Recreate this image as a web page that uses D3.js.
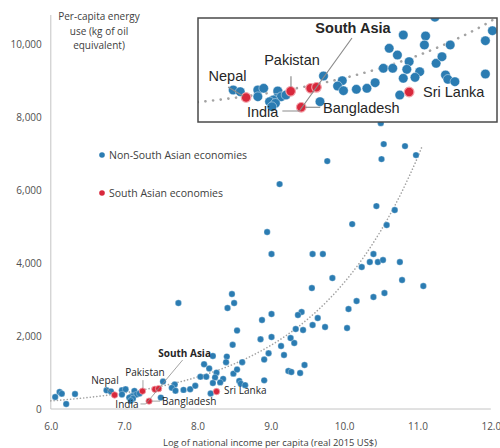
<!DOCTYPE html>
<html>
<head>
<meta charset="utf-8">
<script src="https://cdn.jsdelivr.net/npm/d3@7"></script>
<style>
  body { margin: 0; background: #fff; }
  svg { display: block; }
  text { font-family: "Open Sans", "Noto Sans", sans-serif; }
</style>
</head>
<body>
<svg id="chart" width="500" height="448"></svg>
<script>
// Log of national income per capita (real 2015 US$) and energy use per capita (kg oil eq.)
const otherIncome = [
  6.06, 6.12, 6.15, 6.21, 6.33,
  6.76, 6.82, 6.97, 7.02, 6.97, 7.14, 7.13, 7.17, 7.21, 7.10, 7.07, 7.12, 7.09,
  7.50, 7.53, 7.69, 7.65, 7.70, 7.81, 7.90, 7.97, 8.04, 8.12, 8.09, 8.16, 8.21, 8.40,
  8.39, 8.61, 8.91, 8.97, 8.26, 8.24, 8.35, 8.49, 8.54, 8.31, 8.21, 8.57, 8.59, 8.65,
  8.91, 8.18, 8.48,
  10.50, 10.54, 10.83, 10.98, 10.51, 9.77, 9.12, 10.44, 10.69, 10.11, 10.58, 8.95,
  9.01, 9.57, 9.71, 10.40, 10.35, 10.46, 10.53, 10.76, 10.24, 9.84, 9.56, 10.79,
  11.08, 10.55, 10.40, 10.17, 10.06, 7.74, 8.47, 8.50, 8.41, 9.42, 9.37, 9.01, 8.88,
  8.54, 9.64, 9.57, 9.74, 10.04, 9.34, 9.44, 8.86, 9.01, 9.27, 9.14, 9.32, 9.18,
  9.24, 9.28, 9.40, 9.46
];
const otherEnergy = [
  329, 466, 420, 137, 411,
  512, 483, 512, 541, 397, 495, 370, 397, 426, 341, 312, 284, 226,
  312, 752, 671, 580, 500, 524, 541, 637, 884, 884, 1226, 1111, 1454, 1437,
  1283, 1283, 1356, 1527, 997, 866, 825, 969, 1082, 729, 712, 769, 695, 654,
  786, 426, 1760,
  7836, 7261, 7206, 6960, 6850, 6795, 6165, 5562, 5453, 5069, 5042, 4850,
  4247, 4247, 4247, 4247, 4028, 4028, 4083, 4028, 3891, 3589, 3315, 3535,
  3370, 3178, 3069, 2959, 2740, 2904, 3151, 2904, 2767, 2658, 2576, 2603, 2439,
  2150, 2493, 2302, 2247, 2219, 2192, 2165, 1910, 1973, 1945, 1726, 1808, 1480,
  1041, 1014, 986, 1206
];
const southAsiaNames  = ["Nepal", "Pakistan", "Bangladesh", "India", "South Asia", "Sri Lanka"];
const southAsiaIncome = [6.87, 7.25, 7.34, 7.42, 7.47, 8.26];
const southAsiaEnergy = [384, 490, 216, 541, 558, 478];

const xTicks = [6, 7, 8, 9, 10, 11, 12];
const yTicks = [0, 2000, 4000, 6000, 8000, 10000];
const legendLabels = ["Non-South Asian economies", "South Asian economies"];
const yTitleLines = ["Per-capita energy", "use (kg of oil", "equivalent)"];
const xTitle = "Log of national income per capita (real 2015 US$)";

// exponential trend: energy = a * exp(b * income)
const trendA = 3.6, trendB = 0.687;
const trendFrom = 6.0, trendTo = 11.07;

const BLUE = "#2b7cb2", RED = "#d8283c";

const others = otherIncome.map((x, i) => ({ x, y: otherEnergy[i] }));
const southAsia = southAsiaNames.map((name, i) => ({ name, x: southAsiaIncome[i], y: southAsiaEnergy[i] }));
const trend = d3.range(trendFrom, trendTo + 1e-9, 0.02).map(x => ({ x, y: trendA * Math.exp(trendB * x) }));

const svg = d3.select("#chart");

// ---- main plot ----
const x = d3.scaleLinear().domain([6, 12]).range([50.8, 490.8]);
const y = d3.scaleLinear().domain([0, 10800]).range([409, 15]);

svg.append("line").attr("x1", x(6)).attr("x2", x(12)).attr("y1", y(0)).attr("y2", y(0))
  .attr("stroke", "#c4c4c4").attr("stroke-width", 1);
svg.append("line").attr("x1", x(6)).attr("x2", x(6)).attr("y1", y(0)).attr("y2", y(10800))
  .attr("stroke", "#c4c4c4").attr("stroke-width", 1);

const xAxis = d3.axisBottom(x).tickValues(xTicks).tickSize(0).tickPadding(0).tickFormat(d3.format(".1f"));
const gx = svg.append("g").attr("transform", `translate(0,${y(0)})`).call(xAxis);
gx.select(".domain").remove();
gx.selectAll("text").attr("y", 21).attr("dy", 0).attr("font-size", 10).attr("fill", "#505050")
  .style("font-family", '"Open Sans", sans-serif');

const yAxis = d3.axisLeft(y).tickValues(yTicks).tickSize(0).tickPadding(0).tickFormat(d3.format(","));
const gy = svg.append("g").attr("transform", `translate(${x(6) - 9},0)`).call(yAxis);
gy.select(".domain").remove();
gy.selectAll("text").attr("font-size", 10).attr("fill", "#505050")
  .style("font-family", '"Open Sans", sans-serif');

svg.append("text").attr("x", 270).attr("y", 446).attr("text-anchor", "middle")
  .attr("font-size", 9.4).attr("fill", "#404040").text(xTitle);
svg.append("g").selectAll("text").data(yTitleLines).join("text")
  .attr("x", 99).attr("y", (d, i) => 20 + i * 14.5).attr("text-anchor", "middle")
  .attr("font-size", 10).attr("fill", "#404040").text(d => d);

// legend
const legend = svg.append("g").attr("transform", "translate(102,155)");
legendLabels.forEach((t, i) => {
  const row = legend.append("g").attr("transform", `translate(0,${i * 38})`);
  row.append("circle").attr("r", 2.8).attr("fill", i === 0 ? BLUE : RED);
  row.append("text").attr("x", 7).attr("y", 3.7).attr("font-size", 10.5).attr("fill", "#404040").text(t);
});

function drawPanel(g, sx, sy, o) {
  const line = d3.line().x(d => sx(d.x)).y(d => sy(d.y));
  g.append("path").datum(trend).attr("d", line).attr("fill", "none")
    .attr("stroke", "#a3a3a3").attr("stroke-width", o.trendWidth)
    .attr("stroke-dasharray", o.trendDash).attr("stroke-linecap", "round");

  g.append("g").selectAll("circle").data(others).join("circle")
    .attr("cx", d => sx(d.x)).attr("cy", d => sy(d.y)).attr("r", o.r)
    .attr("fill", BLUE).attr("stroke", "#ffffff").attr("stroke-opacity", 0.5).attr("stroke-width", o.r * 0.18);
  g.append("g").selectAll("circle").data(southAsia).join("circle")
    .attr("cx", d => sx(d.x)).attr("cy", d => sy(d.y)).attr("r", o.r)
    .attr("fill", RED).attr("stroke", "#f3a0a8").attr("stroke-width", o.r * 0.25);

  const pos = {};
  southAsia.forEach(d => pos[d.name] = [sx(d.x), sy(d.y)]);

  const lead = g.append("g").attr("stroke", "#8c8c8c").attr("stroke-width", o.leaderWidth).attr("fill", "none");
  Object.entries(o.leaders).forEach(([name, seg]) => {
    const [px, py] = pos[name];
    lead.append("line")
      .attr("x1", px + seg[0][0]).attr("y1", py + seg[0][1])
      .attr("x2", px + seg[1][0]).attr("y2", py + seg[1][1]);
  });

  const labels = g.append("g");
  const textNodes = {};
  Object.entries(o.labels).forEach(([name, [dx, dy, anchor]]) => {
    const [px, py] = pos[name];
    textNodes[name] = labels.append("text")
      .attr("x", px + dx).attr("y", py + dy).attr("text-anchor", anchor)
      .attr("font-size", o.font).attr("fill", "#262626")
      .attr("font-weight", name === "South Asia" ? 700 : 400)
      .style("font-family", o.family)
      .text(name);
  });

  // shared leader: South Asia label -> aggregate point, continued down to the India label
  const [sxp, syp] = pos["South Asia"];
  const sa = o.labels["South Asia"];
  const start = [sxp + sa[0] - o.saShift, syp + sa[1] + o.saGap];
  const ind = o.labels["India"];
  const [ixp, iyp] = pos["India"];
  const endY = iyp + ind[1] + o.indiaDy;
  const t = (endY - start[1]) / (syp - start[1]);
  const end = [start[0] + t * (sxp - start[0]), endY];
  const indiaRight = ixp + ind[0] + textNodes["India"].node().getComputedTextLength() / 2 + o.indiaPad;
  lead.append("polyline")
    .attr("points", [start, end, [indiaRight, endY]].map(p => p.join(",")).join(" "));
}

const mainG = svg.append("g");
drawPanel(mainG, x, y, {
  r: 3.2, font: 10, family: '"Open Sans", sans-serif',
  trendWidth: 1.6, trendDash: "0.1 3.2", leaderWidth: 0.8,
  labels: {
    "Nepal": [-9.6, -11, "middle"],
    "Pakistan": [2.5, -15, "middle"],
    "South Asia": [26, -31.6, "middle"],
    "India": [-28, 18.7, "middle"],
    "Bangladesh": [13, 4, "start"],
    "Sri Lanka": [7.5, 2.4, "start"]
  },
  leaders: {
    "Nepal": [[-8.6, -7], [-2.6, -1.5]],
    "Pakistan": [[0.5, -11], [0.5, -3]],
    "Bangladesh": [[3, 0], [11, 0]]
  },
  saShift: 2, saGap: 3, indiaDy: -4, indiaPad: 2
});

// ---- magnified inset of the low-income cluster ----
const inset = { x: 198, y: 18, w: 299, h: 104 };
const ix = d3.scaleLinear().domain([6.46, 6.46 + 300 / 117.3]).range([198, 498]);
const iy = d3.scaleLinear().domain([-36, 1745]).range([122, 18]);

svg.append("defs").append("clipPath").attr("id", "insetClip")
  .append("rect").attr("x", inset.x).attr("y", inset.y).attr("width", inset.w).attr("height", inset.h);
svg.append("rect").attr("x", inset.x).attr("y", inset.y).attr("width", inset.w).attr("height", inset.h)
  .attr("fill", "#fff");
const insetG = svg.append("g").attr("clip-path", "url(#insetClip)");
drawPanel(insetG, ix, iy, {
  r: 4.8, font: 14.5, family: '"Liberation Sans", Arial, sans-serif',
  trendWidth: 2.6, trendDash: "0.1 7.6", leaderWidth: 1.2,
  labels: {
    "Nepal": [-18.6, -16.5, "middle"],
    "Pakistan": [1.3, -26.3, "middle"],
    "South Asia": [36.5, -54.3, "middle"],
    "India": [-48, 28.7, "middle"],
    "Bangladesh": [21.8, 5.7, "start"],
    "Sri Lanka": [13.9, 5, "start"]
  },
  leaders: {
    "Nepal": [[-18, -10.5], [-3, -1.5]],
    "Pakistan": [[0.3, -15], [0.3, -4.3]],
    "Bangladesh": [[4, 0], [19, 0]]
  },
  saShift: 1, saGap: 5, indiaDy: -6, indiaPad: 4
});
svg.append("rect").attr("x", inset.x).attr("y", inset.y).attr("width", inset.w).attr("height", inset.h)
  .attr("fill", "none").attr("stroke", "#4a4a4a").attr("stroke-width", 1.5);
</script>
</body>
</html>
